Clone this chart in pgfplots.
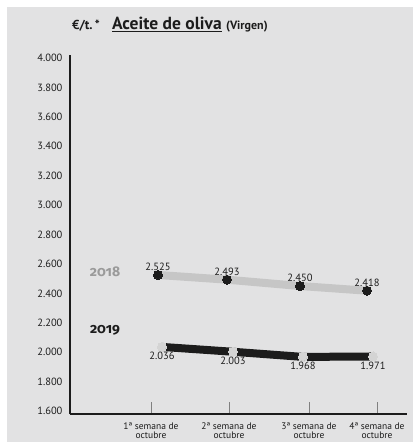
\documentclass[border=0pt]{standalone}
\usepackage{fontspec}
\setmainfont{PT Sans}
\newfontfamily\yrfont[RawFeature=+onum]{Fira Sans}
\usepackage{pgfplots}
\pgfplotsset{compat=1.18}
\definecolor{bg}{HTML}{E2E2E3}
\definecolor{lightl}{HTML}{C6C6C6}
\definecolor{lightm}{HTML}{D4D4D4}
\definecolor{darkl}{HTML}{1C1C1C}
\definecolor{yr}{HTML}{9A9A9A}
\begin{document}
\begin{tikzpicture}
\fill[white] (0pt,0pt) rectangle (413pt,-442pt);
\fill[bg] (7pt,-7pt) rectangle (413pt,-442pt);
\node[anchor=base west, text=darkl, inner sep=0] (tt) at (72pt,-29pt) {\bfseries\fontsize{13}{15}\selectfont €/t.\,*};
\node[anchor=base west, text=darkl, inner sep=0] (ta) at (112pt,-29pt) {\bfseries\fontsize{17.5}{19}\selectfont Aceite de oliva};
\draw[darkl, line width=1pt] (ta.base west)++(0,-2.5pt) -- ([yshift=-2.5pt]ta.base east);
\node[anchor=base west, text=darkl, inner sep=0] at ([xshift=4pt]ta.base east) {\bfseries\fontsize{12}{13}\selectfont (Virgen)};
\begin{axis}[
  at={(70pt,-414pt)}, anchor=south west,
  scale only axis, width=337pt, height=359pt,
  xmin=70, xmax=407, ymin=1580, ymax=4020,
  axis x line=bottom, axis y line=left,
  axis line style={-, line width=1.3pt, darkl},
  /pgf/number format/assume math mode=true,
  /pgf/number format/1000 sep={.},
  xtick={151,229,309,377},
  xticklabels={{1ª semana de\\octubre},{2ª semana de\\octubre},{3ª semana de\\octubre},{4ª semana de\\octubre}},
  xticklabel style={align=center, font=\fontsize{9.5}{9.5}\selectfont, text=darkl, inner sep=1pt, yshift=-7.5pt},
  tick align=inside, major tick length=12pt,
  x tick style={line width=1pt, gray},
  ytick={1600,1800,...,4000},
  y tick style={draw=none},
  yticklabel style={font=\fontsize{10.5}{11}\selectfont, text=darkl, xshift=-4pt},
  clip=false,
  every node near coord/.append style={font=\fontsize{10.5}{11}\selectfont, text=darkl},
]
\addplot[lightl, line width=8pt, line join=round, mark=*, mark size=4.5pt,
  mark options={draw=darkl, fill=darkl, line width=0pt},
  point meta=explicit symbolic, nodes near coords,
  nodes near coords align={above}, every node near coord/.append style={yshift=1pt}]
coordinates {(158,2525) [2.525] (227,2493) [2.493] (300,2450) [2.450] (367,2418) [2.418]};
\addplot[darkl, line width=8pt, line join=round, mark=*, mark size=4.5pt,
  mark options={draw=lightm, fill=lightm, line width=0pt},
  point meta=explicit symbolic, nodes near coords,
  nodes near coords align={below}, every node near coord/.append style={yshift=-2pt}]
coordinates {(162,2036) [2.036] (233,2003) [2.003] (303,1968) [1.968] (373,1971) [1.971]};
\end{axis}
\node[text=yr] at (105pt,-272pt) {\yrfont\bfseries\fontsize{14}{14}\selectfont 2018};
\node[text=darkl] at (105pt,-330pt) {\yrfont\bfseries\fontsize{14}{14}\selectfont 2019};
\pgfresetboundingbox
\useasboundingbox (0pt,0pt) rectangle (413pt,-442pt);
\end{tikzpicture}
\end{document}
